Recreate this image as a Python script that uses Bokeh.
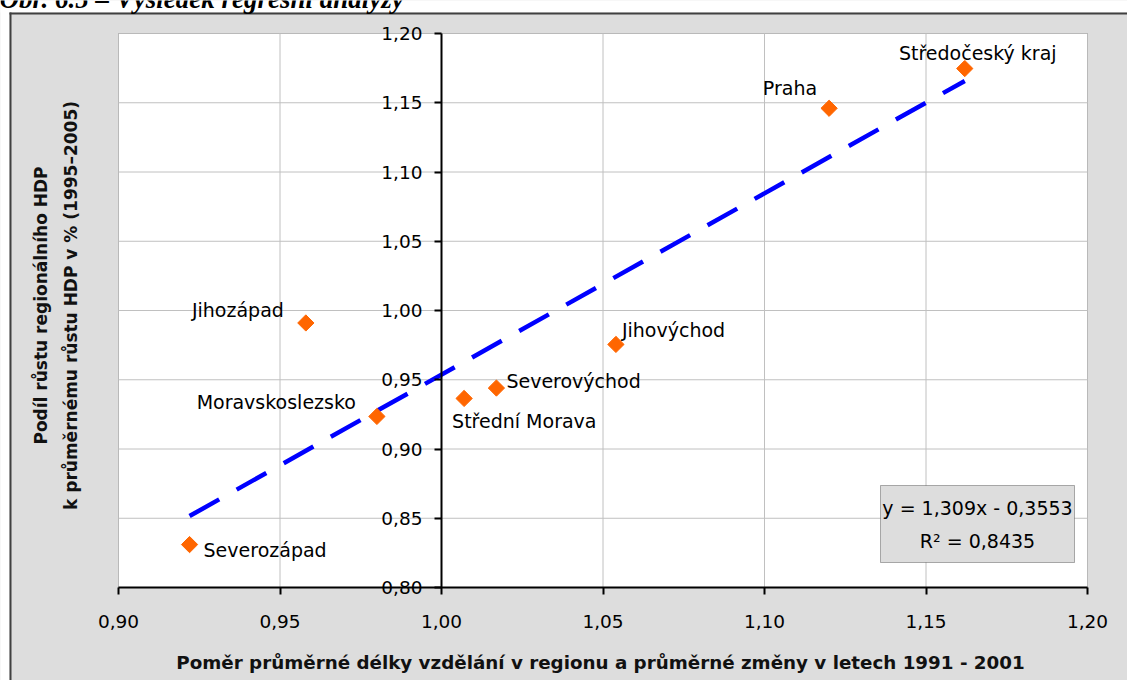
import math
from bokeh.plotting import figure
from bokeh.models import (ColumnDataSource, FixedTicker, CustomJSTickFormatter,
                          BoxAnnotation, Label, Range1d)
from bokeh.core.properties import value
from bokeh.embed import file_html
from bokeh.resources import INLINE

# ---- data ----
regions = ["Severozápad", "Jihozápad", "Moravskoslezsko", "Střední Morava",
           "Severovýchod", "Jihovýchod", "Praha", "Středočeský kraj"]
edu_ratio = [0.922, 0.958, 0.980, 1.007, 1.017, 1.054, 1.120, 1.162]
gdp_ratio = [0.831, 0.991, 0.9235, 0.9365, 0.944, 0.9755, 1.146, 1.1747]
trend_slope = 1.309
trend_intercept = -0.3553
r_squared = 0.8435
x_ticks = [0.90, 0.95, 1.00, 1.05, 1.10, 1.15, 1.20]
y_ticks = [0.80, 0.85, 0.90, 0.95, 1.00, 1.05, 1.10, 1.15, 1.20]
caption = "Obr. 6.5 – Výsledek regresní analýzy"
x_title = "Poměr průměrné délky vzdělání v regionu a průměrné změny v letech 1991 - 2001"
y_title_1 = "Podíl růstu regionálního HDP"
y_title_2 = "k průměrnému růstu HDP v % (1995–2005)"

# ---- label placement (style) ----
label_dx = [14, -22, -21, -12, 10, 6, -12, 13]
label_dy = [5, -13, -14, 23, -7, -14, -20, -16]
label_align = ["left", "right", "right", "left", "left", "left", "right", "center"]

FONT = "DejaVu Sans"
W, H = 1127, 680
FL, FT, FR, FB = 118, 33, 1087, 587   # plot-area edges in pixels
X0, X1, Y0, Y1 = 0.90, 1.20, 0.80, 1.20


def px2x(px):
    return X0 + (px - FL) * (X1 - X0) / (FR - FL)


def py2y(py):
    return Y0 + (FB - py) * (Y1 - Y0) / (FB - FT)


p = figure(width=W, height=H, output_backend="svg", toolbar_location=None,
           x_range=Range1d(px2x(0), px2x(W)), y_range=Range1d(py2y(H), py2y(0)),
           min_border=0, min_border_left=0, min_border_right=0,
           min_border_top=0, min_border_bottom=0)
p.border_fill_color = "#DDDDDD"
p.background_fill_color = "#DDDDDD"
p.outline_line_color = None
p.grid.visible = False

# page margin (white) and dark border of the chart area
for l, r, t, b, c in ((-20, 9, -20, H + 20, "white"), (-20, W + 20, -20, 12, "white"),
                      (9, 11, 12, H + 20, "#404040"), (9, W + 20, 12, 14, "#404040")):
    p.add_layout(BoxAnnotation(left=px2x(l), right=px2x(r), top=py2y(t), bottom=py2y(b),
                               fill_color=c, fill_alpha=1, line_color=None, level="image"))

# white plot area
p.add_layout(BoxAnnotation(left=X0, right=X1, bottom=Y0, top=Y1, fill_color="white",
                           fill_alpha=1, line_color="#404040", line_width=1, level="image"))

# grid lines
gx = [t for t in x_ticks if X0 < t < X1]
gy = [t for t in y_ticks if Y0 < t < Y1]
p.segment(x0=gx, y0=[Y0] * len(gx), x1=gx, y1=[Y1] * len(gx),
          line_color="#C0C0C0", line_width=1)
p.segment(x0=[X0] * len(gy), y0=gy, x1=[X1] * len(gy), y1=gy,
          line_color="#C0C0C0", line_width=1)

fmt = CustomJSTickFormatter(code="return tick.toFixed(2).replace('.', ',');")
for ax in (p.xaxis[0], p.yaxis[0]):
    ax.axis_line_color = "black"
    ax.axis_line_width = 2
    ax.major_tick_line_color = "black"
    ax.major_tick_line_width = 2
    ax.major_tick_out = 7
    ax.major_tick_in = 0
    ax.minor_tick_line_color = None
    ax.major_label_text_font = FONT
    ax.major_label_text_font_size = "18.5px"
    ax.major_label_text_color = "black"
    ax.formatter = fmt

p.xaxis.ticker = FixedTicker(ticks=x_ticks)
p.yaxis.ticker = FixedTicker(ticks=y_ticks)
p.xaxis.bounds = (X0, X1)
p.yaxis.bounds = (Y0, Y1)
p.xaxis.fixed_location = Y0
p.yaxis.fixed_location = 1.0
p.xaxis.major_label_standoff = 20
p.yaxis.major_label_standoff = 12

# trend line
tx = [min(edu_ratio), max(edu_ratio)]
ty = [trend_slope * v + trend_intercept for v in tx]
p.line(tx, ty, line_color="#0000FF", line_width=4.5, line_dash="34 20")

src = ColumnDataSource(dict(x=edu_ratio, y=gdp_ratio, name=regions,
                            dx=label_dx, dy=label_dy, align=label_align))
p.scatter("x", "y", source=src, marker="square", angle=math.pi / 4,
          size=11.5, fill_color="#FF6600", line_color="#FF6600")
p.text("x", "y", text="name", source=src, x_offset="dx", y_offset="dy",
       text_align="align", text_baseline="middle",
       text_font=value(FONT), text_font_size="19px", text_color="black")

# equation box
p.add_layout(BoxAnnotation(left=px2x(880), right=px2x(1074), top=py2y(485), bottom=py2y(562),
                           fill_color="#DDDDDD", fill_alpha=1,
                           line_color="black", line_width=1))
eq1 = "y = " + f"{trend_slope:.3f}".replace(".", ",") + "x - " + \
      f"{abs(trend_intercept):.4f}".replace(".", ",")
eq2 = "R² = " + f"{r_squared:.4f}".replace(".", ",")
for txt, py in ((eq1, 507), (eq2, 540)):
    p.add_layout(Label(x=px2x(977), y=py2y(py), text=txt, text_align="center",
                       text_baseline="middle", text_font=FONT,
                       text_font_size="19px", text_color="black"))

# axis titles
p.add_layout(Label(x=px2x(600), y=py2y(662), text=x_title, text_align="center",
                   text_baseline="middle", text_font=FONT, text_font_style="bold",
                   text_font_size="18.3px", text_color="#111111"))
for txt, px in ((y_title_1, 40), (y_title_2, 70)):
    p.add_layout(Label(x=px2x(px), y=py2y(305), text=txt, angle=math.pi / 2,
                       text_align="center", text_baseline="middle", text_font=FONT,
                       text_font_style="bold", text_font_size="17px", text_color="#111111"))

# document caption (cut off at the top edge in the reference)
p.add_layout(Label(x=px2x(-1), y=py2y(-1.5), text=caption, text_baseline="alphabetic",
                   text_font="Liberation Serif", text_font_style="bold italic",
                   text_font_size="27px", text_color="black"))

open("out.html", "w").write(file_html(p, INLINE))
